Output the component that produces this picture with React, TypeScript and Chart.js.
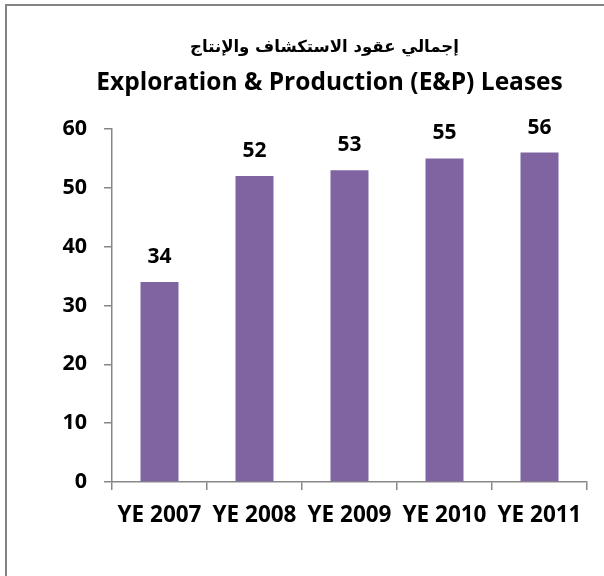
import React, { useEffect, useRef } from "react";
import { Chart, registerables } from "chart.js";

Chart.register(...registerables);

const categories = ["YE 2007", "YE 2008", "YE 2009", "YE 2010", "YE 2011"];
const leases = [34, 52, 53, 55, 56];
const titleArabic = "إجمالي عقود الاستكشاف والإنتاج";
const titleEnglish = "Exploration & Production (E&P) Leases";
const yMin = 0;
const yMax = 60;
const yStep = 10;

const FONT = "'Open Sans', Lato, 'DejaVu Sans', sans-serif";
const TITLE_FONT = "'Open Sans', Lato, sans-serif";
const AXIS_GRAY = "#878787";

const framePlugin = {
  id: "frame",
  beforeDraw(chart: any) {
    const ctx = chart.ctx;
    ctx.save();
    ctx.fillStyle = "#ffffff";
    ctx.fillRect(0, 0, chart.width, chart.height);
    ctx.fillStyle = "#838383";
    ctx.fillRect(5, 4, chart.width - 5, 2);
    ctx.fillRect(5, 4, 2, chart.height - 4);
    ctx.restore();
  },
};

const titlesPlugin = {
  id: "titles",
  afterDraw(chart: any) {
    const ctx = chart.ctx;
    ctx.save();
    ctx.fillStyle = "#000000";
    ctx.textAlign = "center";
    ctx.textBaseline = "alphabetic";
    ctx.font = "bold 16.5px 'DejaVu Sans', sans-serif";
    ctx.fillText(titleArabic, 324.5, 52);
    ctx.font = "bold 24.5px " + TITLE_FONT;
    ctx.fillText(titleEnglish, 329.5, 90);
    ctx.restore();
  },
};

const valueLabelsPlugin = {
  id: "valueLabels",
  afterDatasetsDraw(chart: any) {
    const ctx = chart.ctx;
    const meta = chart.getDatasetMeta(0);
    ctx.save();
    ctx.fillStyle = "#000000";
    ctx.textAlign = "center";
    ctx.textBaseline = "alphabetic";
    ctx.font = "bold 21px " + FONT;
    meta.data.forEach((bar: any, i: number) => {
      ctx.fillText(String(leases[i]), bar.x, bar.y - 19);
    });
    ctx.restore();
  },
};

export default function App() {
  const canvasRef = useRef<HTMLCanvasElement | null>(null);

  useEffect(() => {
    document.body.style.margin = "0";
    const canvas = canvasRef.current;
    if (!canvas) return;
    const chart = new Chart(canvas, {
      type: "bar",
      data: {
        labels: categories,
        datasets: [
          {
            data: leases,
            backgroundColor: "#8064A2",
            borderWidth: 0,
            barPercentage: 0.4,
            categoryPercentage: 1,
          },
        ],
      },
      options: {
        animation: false,
        responsive: false,
        maintainAspectRatio: false,
        layout: { padding: { top: 129, right: 17, left: 0, bottom: 0 } },
        plugins: {
          legend: { display: false },
          title: { display: false },
          tooltip: { enabled: false },
        },
        scales: {
          x: {
            afterFit(scale: any) {
              scale.height = 94;
            },
            grid: {
              display: true,
              drawOnChartArea: false,
              drawTicks: true,
              tickLength: 8,
              color: AXIS_GRAY,
              lineWidth: 1.5,
              offset: true,
            },
            border: { display: true, color: AXIS_GRAY, width: 1.5 },
            ticks: {
              color: "#000000",
              font: { family: FONT, size: 22.5, weight: "bold" },
              padding: 12,
              maxRotation: 0,
              autoSkip: false,
            },
          },
          y: {
            min: yMin,
            max: yMax,
            afterFit(scale: any) {
              scale.width = 112;
            },
            grid: {
              display: true,
              drawOnChartArea: false,
              drawTicks: true,
              tickLength: 8,
              color: AXIS_GRAY,
              lineWidth: 1.5,
            },
            border: { display: true, color: AXIS_GRAY, width: 1.5 },
            ticks: {
              stepSize: yStep,
              color: "#000000",
              font: { family: FONT, size: 21.5, weight: "bold" },
              padding: 17,
            },
          },
        },
      },
      plugins: [framePlugin, titlesPlugin, valueLabelsPlugin],
    });
    return () => chart.destroy();
  }, []);

  return (
    <div style={{ width: 604, height: 576 }}>
      <canvas ref={canvasRef} width={604} height={576} style={{ display: "block", width: 604, height: 576 }} />
    </div>
  );
}
